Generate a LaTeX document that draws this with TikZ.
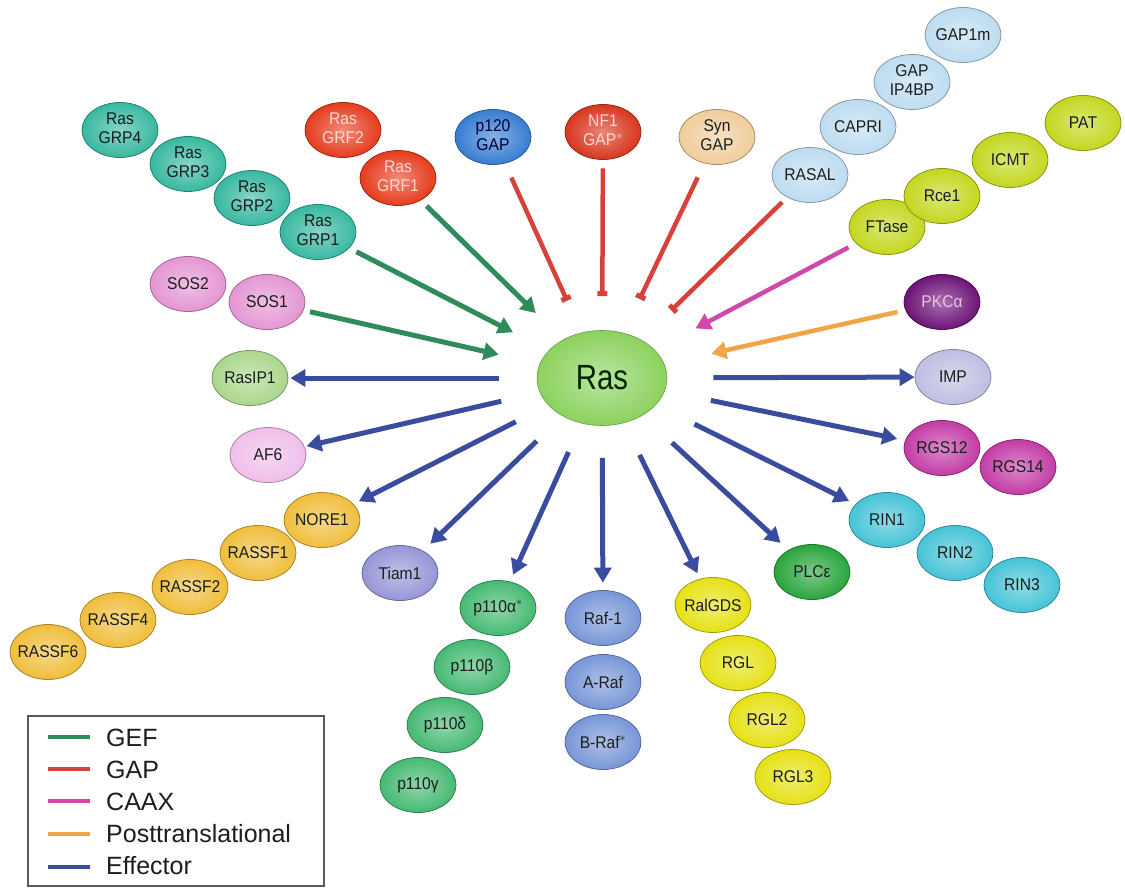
\documentclass[tikz,border=0pt]{standalone}
\usepackage{fontspec}
\setmainfont{Liberation Sans}
\newfontfamily\rasfont[FakeStretch=0.84]{Liberation Sans}
\newfontfamily\protfont[FakeStretch=0.92]{Liberation Sans}
\usetikzlibrary{arrows.meta,shapes.geometric}

\definecolor{gefc}{RGB}{46,140,90}
\definecolor{gapc}{RGB}{214,66,56}
\definecolor{caaxc}{RGB}{208,72,170}
\definecolor{postc}{RGB}{240,165,70}
\definecolor{effc}{RGB}{58,76,158}
\definecolor{legc}{RGB}{90,90,90}

\definecolor{grpc}{RGB}{56,184,160}
\definecolor{sosc}{RGB}{228,150,210}
\definecolor{rasipc}{RGB}{170,215,140}
\definecolor{afc}{RGB}{240,190,235}
\definecolor{rassfc}{RGB}{240,190,60}
\definecolor{tiamc}{RGB}{150,150,215}
\definecolor{pic}{RGB}{70,185,115}
\definecolor{rafc}{RGB}{120,150,215}
\definecolor{ralc}{RGB}{230,225,20}
\definecolor{plcc}{RGB}{40,165,60}
\definecolor{rinc}{RGB}{70,195,215}
\definecolor{rgsc}{RGB}{195,60,165}
\definecolor{impc}{RGB}{190,190,225}
\definecolor{pkcc}{RGB}{110,20,120}
\definecolor{ftc}{RGB}{195,215,30}
\definecolor{rasalc}{RGB}{190,220,240}
\definecolor{sync}{RGB}{240,205,155}
\definecolor{nfc}{RGB}{215,55,30}
\definecolor{pgapc}{RGB}{55,125,210}
\definecolor{grfc}{RGB}{230,60,30}
\definecolor{rasc}{RGB}{140,210,95}
\definecolor{lighttext}{RGB}{255,215,210}
\definecolor{pkctext}{RGB}{240,190,230}
\definecolor{darktext}{RGB}{25,30,30}

\newcommand\one[1]{\makebox[0pt]{#1}}
\newcommand\two[2]{\makebox[0pt]{\begin{tabular}{@{}c@{}}#1\\#2\end{tabular}}}

\tikzset{
  prot/.style={ellipse, minimum width=76pt, minimum height=55pt, inner sep=0pt,
    font=\protfont\fontsize{17}{19}\selectfont, text=darktext},
  pc/.style={prot, draw=#1!70!black, line width=0.8pt, inner color=#1!60!white, outer color=#1},
  tip/.style={-{Triangle[length=15pt,width=17pt]}},
  eff/.style={draw=effc, line width=5pt, tip},
  gef/.style={draw=gefc, line width=5pt, tip},
  caax/.style={draw=caaxc, line width=4.5pt, tip},
  post/.style={draw=postc, line width=4.5pt, tip},
  gap/.style={draw=gapc, line width=4.5pt, -{Bar[width=10pt,line width=5pt]}},
  legline/.style={line width=4pt},
  legtext/.style={anchor=west, inner sep=0pt, font=\fontsize{25}{25}\selectfont, text=darktext}
}

\begin{document}
\begin{tikzpicture}[x=1pt,y=-1pt]
\useasboundingbox (0,0) rectangle (1125,888);

% central node
\node[ellipse, minimum width=130pt, minimum height=95pt, inner sep=0pt,
  draw=rasc!75!black, line width=0.6pt, inner color=rasc!60!white, outer color=rasc,
  font=\rasfont\fontsize{35}{35}\selectfont, text=black!85!green] (ras) at (602,378) {\one{Ras}};

% GEF
\node[pc=grpc] (grp4) at (120,130) {\two{Ras}{GRP4}};
\node[pc=grpc] (grp3) at (188,164) {\two{Ras}{GRP3}};
\node[pc=grpc] (grp2) at (252,198) {\two{Ras}{GRP2}};
\node[pc=grpc] (grp1) at (318,232) {\two{Ras}{GRP1}};
\node[pc=sosc] (sos2) at (188,284) {\one{SOS2}};
\node[pc=sosc] (sos1) at (267,302) {\one{SOS1}};
\node[pc=grfc, text=lighttext] (grf2) at (343,130) {\two{Ras}{GRF2}};
\node[pc=grfc, text=lighttext] (grf1) at (398,178) {\two{Ras}{GRF1}};

% GAP
\node[pc=pgapc, text=black!80!blue] (p120) at (493,137) {\two{p120}{GAP}};
\node[pc=nfc, text=lighttext] (nf1) at (603,132) {\two{NF1}{GAP$^*$}};
\node[pc=sync] (syn) at (717,137) {\two{Syn}{GAP}};
\node[pc=rasalc] (rasal) at (810,175) {\one{RASAL}};
\node[pc=rasalc] (capri) at (858,127) {\one{CAPRI}};
\node[pc=rasalc] (ip4bp) at (912,82) {\two{GAP}{IP4BP}};
\node[pc=rasalc] (gap1m) at (963,35) {\one{GAP1m}};

% CAAX / posttranslational
\node[pc=ftc] (ftase) at (887,227) {\one{FTase}};
\node[pc=ftc] (rce1) at (942,196) {\one{Rce1}};
\node[pc=ftc] (icmt) at (1010,160) {\one{ICMT}};
\node[pc=ftc] (pat) at (1083,123) {\one{PAT}};
\node[pc=pkcc, text=pkctext] (pkc) at (942,302) {\one{PKCα}};

% effectors
\node[pc=impc] (imp) at (953,377) {\one{IMP}};
\node[pc=rgsc] (rgs12) at (942,448) {\one{RGS12}};
\node[pc=rgsc] (rgs14) at (1018,467) {\one{RGS14}};
\node[pc=rinc] (rin1) at (887,520) {\one{RIN1}};
\node[pc=rinc] (rin2) at (955,553) {\one{RIN2}};
\node[pc=rinc] (rin3) at (1022,585) {\one{RIN3}};
\node[pc=plcc] (plc) at (812,572) {\one{PLCε}};
\node[pc=ralc] (ralgds) at (713,605) {\one{RalGDS}};
\node[pc=ralc] (rgl) at (738,663) {\one{RGL}};
\node[pc=ralc] (rgl2) at (767,720) {\one{RGL2}};
\node[pc=ralc] (rgl3) at (793,777) {\one{RGL3}};
\node[pc=rafc] (raf1) at (603,618) {\one{Raf-1}};
\node[pc=rafc] (araf) at (603,682) {\one{A-Raf}};
\node[pc=rafc] (braf) at (603,742) {\one{B-Raf$^*$}};
\node[pc=pic] (pa) at (498,608) {\one{p110α$^*$}};
\node[pc=pic] (pb) at (472,667) {\one{p110β}};
\node[pc=pic] (pd) at (445,725) {\one{p110δ}};
\node[pc=pic] (pg) at (418,785) {\one{p110γ}};
\node[pc=tiamc] (tiam) at (400,573) {\one{Tiam1}};
\node[pc=rassfc] (nore1) at (322,520) {\one{NORE1}};
\node[pc=rassfc] (rassf1) at (258,553) {\one{RASSF1}};
\node[pc=rassfc] (rassf2) at (190,587) {\one{RASSF2}};
\node[pc=rassfc] (rassf4) at (118,620) {\one{RASSF4}};
\node[pc=rassfc] (rassf6) at (48,652) {\one{RASSF6}};
\node[pc=afc] (af6) at (268,455) {\one{AF6}};
\node[pc=rasipc] (rasip1) at (250,378) {\one{RasIP1}};

% GEF connectors
\draw[gef, shorten <=8pt, shorten >=38pt] (grf1) -- (ras);
\draw[gef, shorten <=8pt, shorten >=40pt] (grp1) -- (ras);
\draw[gef, shorten <=6.5pt, shorten >=42pt] (sos1) -- (ras);

% GAP connectors
\draw[gap, shorten <=15.5pt, shorten >=35pt] (p120) -- (ras);
\draw[gap, shorten <=8.5pt, shorten >=34pt] (nf1) -- (ras);
\draw[gap, shorten <=15.5pt, shorten >=37.5pt] (syn) -- (ras);
\draw[gap, shorten <=7pt, shorten >=42pt] (rasal) -- (ras);

% CAAX and posttranslational
\draw[caax, shorten <=8.5pt, shorten >=46pt] (ftase) -- (ras);
\draw[post, shorten <=8pt, shorten >=48pt] (pkc) -- (ras);

% effector connectors
\draw[eff, shorten <=46pt, shorten >=0pt] (ras) -- (imp);
\draw[eff, shorten <=47pt, shorten >=8pt] (ras) -- (rgs12);
\draw[eff, shorten <=43pt, shorten >=7pt] (ras) -- (rin1);
\draw[eff, shorten <=40pt, shorten >=10.5pt] (ras) -- (plc);
\draw[eff, shorten <=35.5pt, shorten >=6pt] (ras) -- (ralgds);
\draw[eff, shorten <=32pt, shorten >=7.5pt] (ras) -- (raf1);
\draw[eff, shorten <=31.5pt, shorten >=7.5pt] (ras) -- (pa);
\draw[eff, shorten <=36pt, shorten >=10pt] (ras) -- (tiam);
\draw[eff, shorten <=36.5pt, shorten >=6pt] (ras) -- (nore1);
\draw[eff, shorten <=39.5pt, shorten >=2pt] (ras) -- (af6);
\draw[eff, shorten <=38pt, shorten >=2pt] (ras) -- (rasip1);

% legend
\node[draw=legc, line width=1.5pt, minimum width=296pt, minimum height=170pt,
  inner sep=0pt, anchor=north west] (legend) at (27,715) {};
\draw[legline, gefc] (48,737) -- (90,737);
\draw[legline, gapc] (48,769) -- (90,769);
\draw[legline, caaxc] (48,801) -- (90,801);
\draw[legline, postc] (48,834) -- (90,834);
\draw[legline, effc] (48,867) -- (90,867);
\node[legtext] (lgef) at (106,738) {GEF};
\node[legtext] (lgap) at (106,770) {GAP};
\node[legtext] (lcaax) at (106,802) {CAAX};
\node[legtext] (lpost) at (106,834) {Posttranslational};
\node[legtext] (leff) at (106,866) {Effector};
\end{tikzpicture}
\end{document}
